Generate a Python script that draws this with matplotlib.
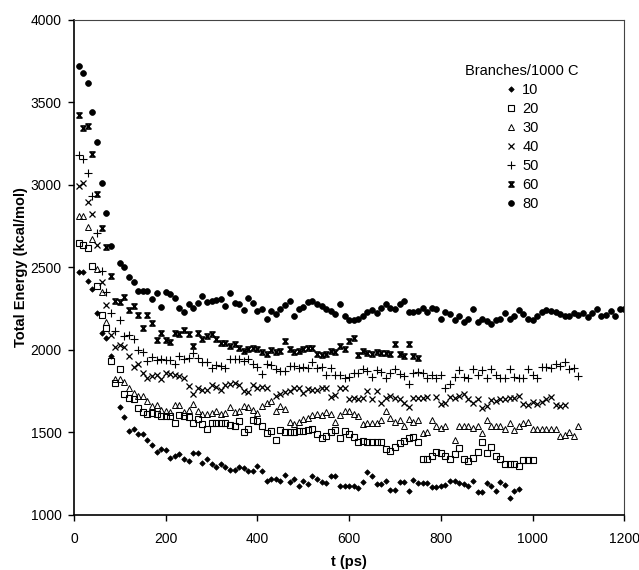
import numpy as np
import matplotlib
matplotlib.use("Agg")
import matplotlib.pyplot as plt
from matplotlib.path import Path

plt.rcParams['font.family'] = ['Liberation Sans', 'DejaVu Sans']

# sampling interval of the trajectories (ps); every series starts at t = 10 ps
dt = 10
nan = np.nan

labels = ["10", "20", "30", "40", "50", "60", "80"]

e10 = [2470, 2470, 2417, 2367, 2226, 2105, 2074, 1963, nan, 1655,
       1595, 1509, 1520, 1490, 1490, 1455, 1425, 1383, 1400, 1394,
       1348, 1358, 1368, 1338, 1328, 1374, 1374, 1318, 1338, 1308,
       1292, 1308, 1288, 1272, 1272, 1292, 1284, 1268, 1268, 1298,
       1268, 1207, 1217, 1217, 1207, 1243, 1201, 1217, 1173, 1207,
       1185, 1237, 1219, 1197, 1193, 1237, 1237, 1177, 1177, 1177,
       1173, 1163, 1197, 1263, 1237, 1187, 1187, 1207, 1152, 1152,
       1201, 1197, 1143, 1211, 1193, 1193, 1193, 1170, 1170, 1175,
       1181, 1203, 1203, 1193, 1187, 1177, 1207, 1137, 1137, 1193,
       1177, 1147, 1197, 1181, 1106, 1147, 1157]

e20 = [2649, 2639, 2620, 2508, 2387, 2215, 2135, 1933, 1802, 1887,
       1731, 1711, 1705, 1651, 1625, 1610, 1620, 1610, 1600, 1600,
       1600, 1560, 1605, 1600, 1596, 1560, 1584, 1550, 1524, 1560,
       1560, 1560, 1555, 1547, 1540, 1570, 1500, 1524, 1575, 1570,
       1540, 1495, 1510, 1453, 1516, 1500, 1500, 1500, 1510, 1510,
       1514, 1520, 1490, 1465, 1480, 1500, 1516, 1465, 1510, 1490,
       1475, 1440, 1450, 1445, 1445, 1445, 1445, 1400, 1385, 1415,
       1435, 1450, 1465, 1470, 1440, 1338, 1338, 1360, 1383, 1375,
       1360, 1338, 1370, 1404, 1342, 1328, 1348, 1383, 1443, 1378,
       1410, 1360, 1338, 1308, 1308, 1308, 1294, 1334, 1332, 1332]

e30 = [2810, 2810, 2746, 2673, 2492, 2350, 2169, nan, 1826, 1826,
       1803, 1772, 1740, 1720, 1720, 1690, 1658, 1668, 1638, 1628,
       1625, 1668, 1664, 1625, 1638, 1672, 1628, 1614, 1614, 1620,
       1628, 1610, 1620, 1652, 1625, 1628, 1658, 1652, 1638, 1620,
       1658, 1678, 1688, 1632, 1658, 1642, 1566, 1550, 1566, 1580,
       1590, 1606, 1610, 1606, 1624, 1614, 1566, 1606, 1630, 1630,
       1614, 1600, 1550, 1556, 1556, 1560, 1575, 1630, 1585, 1566,
       1575, 1540, 1580, 1566, 1575, 1495, 1505, 1575, 1540, 1530,
       1540, nan, 1455, 1540, 1540, 1540, 1530, 1540, 1495, 1575,
       1540, 1540, 1540, 1520, 1556, 1516, 1540, 1560, 1564, 1520,
       1520, 1520, 1520, 1520, 1520, 1480, 1485, 1500, 1480, 1540]

e40 = [2996, 3012, 2895, 2825, 2639, 2411, 2270, 2088, 2020, 2030,
       2020, 1963, 1899, 1913, 1863, 1832, 1842, 1846, 1826, 1863,
       1856, 1846, 1840, 1832, 1782, 1731, 1770, 1755, 1760, 1790,
       1775, 1760, 1785, 1795, 1800, 1790, 1750, 1745, 1790, 1770,
       1775, 1770, nan, 1720, 1735, 1745, 1752, 1770, 1772, 1740,
       1765, 1755, 1760, 1772, 1772, 1715, 1725, 1772, 1772, 1705,
       1711, 1705, 1711, 1750, 1705, 1750, 1680, 1711, 1720, 1711,
       1700, 1680, 1655, 1711, 1711, 1711, 1716, nan, 1716, 1670,
       1680, 1716, 1711, 1722, 1735, 1700, 1680, 1700, 1651, 1660,
       1695, 1690, 1705, 1700, 1711, 1711, 1722, 1675, 1668, 1685,
       1670, 1685, 1700, 1716, 1668, 1660, 1668]

e50 = [3183, 3157, 3073, 2935, 2710, 2478, 2350, 2226, 2114, 2181,
       2084, 2088, 2068, 2000, 1988, 1933, 1959, 1940, 1945, 1940,
       1940, 1913, 1963, 1943, 1953, 1983, 1953, 1929, 1929, 1888,
       1908, 1903, 1888, 1943, 1947, 1943, 1933, 1943, 1913, 1898,
       1852, 1913, 1908, 1883, 1873, 1873, 1903, 1903, 1893, 1898,
       1893, 1929, 1893, 1898, 1848, 1888, 1848, 1848, 1828, 1838,
       1858, 1858, 1883, 1873, 1838, 1878, 1868, 1828, 1863, 1883,
       1853, 1840, 1792, 1858, 1868, 1863, 1828, 1848, 1828, 1848,
       1772, 1792, 1838, 1878, 1838, 1833, 1883, 1848, 1878, 1828,
       1883, 1848, 1828, 1833, 1883, 1838, 1828, 1828, 1883, 1848,
       1833, 1898, 1898, 1888, 1913, 1903, 1929, 1883, 1888, 1843]

e60 = [3425, 3345, 3355, 3189, 2947, 2740, 2625, 2451, 2296, 2290,
       2320, 2245, 2266, 2210, 2135, 2210, 2165, 2058, 2104, 2058,
       2048, 2104, 2094, 2124, 2094, 2024, 2104, 2064, 2084, 2094,
       2064, 2040, 2040, 2024, 2034, 2010, 1996, 2004, 2014, 2004,
       1990, 1976, 2002, 1990, 1996, 2054, 2004, 1990, 1994, 2004,
       2014, 2014, 1976, 1970, 1976, 1994, 1986, 2024, 2008, 2054,
       2074, 1970, 1994, 1980, 1978, 1985, 1982, 1980, 1976, 2034,
       1976, 1966, 2034, 1962, 1950]

e80 = [3720, 3680, 3620, 3440, 3260, 3010, 2830, 2630, nan, 2530,
       2505, 2445, 2410, 2356, 2356, 2356, 2311, 2347, 2262, 2351,
       2337, 2317, 2256, 2230, 2276, 2256, 2286, 2327, 2290, 2296,
       2302, 2306, 2266, 2343, 2286, 2276, 2242, 2317, 2282, 2236,
       2250, 2190, 2236, 2220, 2250, 2270, 2294, 2206, 2250, 2262,
       2290, 2294, 2276, 2266, 2250, 2236, 2216, 2276, 2206, 2182,
       2182, 2186, 2206, 2230, 2242, 2222, 2256, 2276, 2256, 2246,
       2276, 2296, 2230, 2230, 2236, 2256, 2230, 2256, 2246, 2186,
       2230, 2216, 2182, 2206, 2170, 2190, 2246, 2170, 2190, 2176,
       2155, 2182, 2190, 2222, 2190, 2206, 2242, 2216, 2186, 2182,
       2206, 2230, 2242, 2236, 2230, 2216, 2206, 2206, 2226, 2210,
       2226, 2200, 2226, 2250, 2206, 2210, 2236, 2206, 2250, 2250]

series = [e10, e20, e30, e40, e50, e60, e80]

# hourglass marker (x with top and bottom bars)
hourglass = Path([(-1, 1), (1, 1), (-1, -1), (1, -1), (-1, 1)],
                 [Path.MOVETO, Path.LINETO, Path.LINETO, Path.LINETO, Path.CLOSEPOLY])

styles = [
    dict(marker='D', ms=2.8, mfc='k', mec='k', mew=0.5),
    dict(marker='s', ms=3.8, mfc='none', mec='k', mew=0.8),
    dict(marker='^', ms=3.9, mfc='none', mec='k', mew=0.7),
    dict(marker='x', ms=4.0, mec='k', mew=0.9),
    dict(marker='+', ms=6.3, mec='k', mew=0.8),
    dict(marker=hourglass, ms=3.6, mfc='none', mec='k', mew=1.2),
    dict(marker='o', ms=4.2, mfc='k', mec='k', mew=0.5),
]

fig = plt.figure(figsize=(6.39, 5.70), dpi=100)
ax = fig.add_axes([0.1158, 0.0965, 0.8612, 0.8685])

for vals, lab, st in zip(series, labels, styles):
    t = dt * np.arange(1, len(vals) + 1)
    ax.plot(t, vals, linestyle='none', color='k', label=lab, **st)

ax.set_xlim(0, 1200)
ax.set_ylim(1000, 4000)
ax.set_xticks([0, 200, 400, 600, 800, 1000, 1200])
ax.set_yticks([1000, 1500, 2000, 2500, 3000, 3500, 4000])
ax.tick_params(direction='out', length=4, width=1, labelsize=10)
ax.tick_params(axis='x', pad=8)
ax.tick_params(axis='y', pad=5)
ax.set_xlabel("t (ps)", fontsize=10.5, fontweight='bold', labelpad=7)
ax.set_ylabel("Total Energy (kcal/mol)", fontsize=10.5, fontweight='bold', labelpad=2)

for side in ['left', 'bottom']:
    ax.spines[side].set_linewidth(1.2)
for side in ['top', 'right']:
    ax.spines[side].set_linewidth(0.8)
    ax.spines[side].set_color('#444444')

leg = ax.legend(title="Branches/1000 C", frameon=False, fontsize=10.5,
                title_fontsize=10.5, loc='upper left', bbox_to_anchor=(0.70, 0.922),
                handlelength=0.8, handletextpad=0.4, labelspacing=0.34,
                borderaxespad=0)

fig.savefig("out.png", dpi=100)
